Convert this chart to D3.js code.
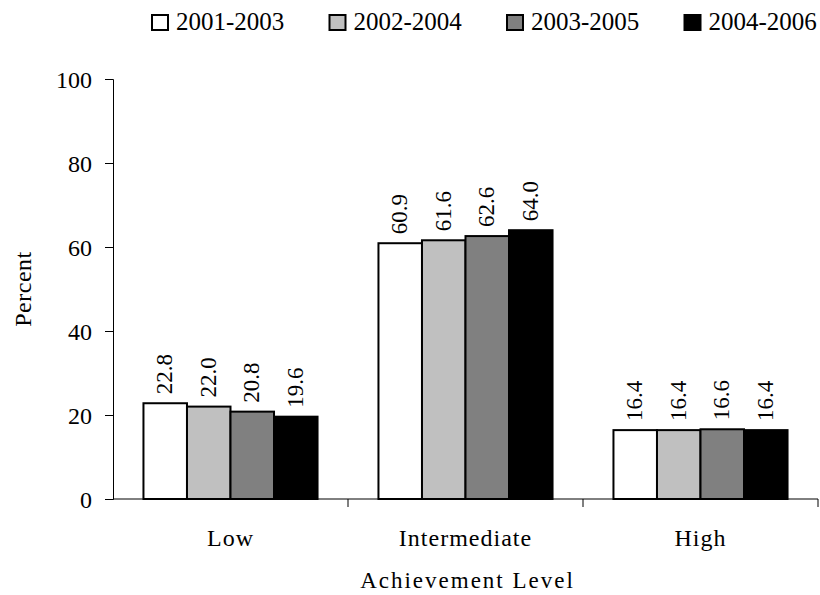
<!DOCTYPE html>
<html>
<head>
<meta charset="utf-8">
<script src="https://cdn.jsdelivr.net/npm/d3@7"></script>
<style>
  body { margin: 0; background: #fff; }
  svg text { font-family: "Liberation Serif", "Times New Roman", serif; fill: #000; }
</style>
</head>
<body>
<div id="chart"></div>
<script>
// chart data
var categories = ['Low', 'Intermediate', 'High'];
var seriesNames = ['2001-2003', '2002-2004', '2003-2005', '2004-2006'];
var seriesColors = ['#ffffff', '#c0c0c0', '#808080', '#000000'];
var values2001 = [22.8, 60.9, 16.4];
var values2002 = [22.0, 61.6, 16.4];
var values2003 = [20.8, 62.6, 16.6];
var values2004 = [19.6, 64.0, 16.4];
var yTicks = [0, 20, 40, 60, 80, 100];

var allSeries = [values2001, values2002, values2003, values2004];

var W = 820, H = 595;
var margin = {left: 113, right: 2, top: 79, bottom: 96};

var svg = d3.select('#chart').append('svg')
	.attr('width', W)
	.attr('height', H);

var x = d3.scaleBand()
	.domain(categories)
	.range([margin.left, W - margin.right])
	.paddingInner(0)
	.paddingOuter(0);

var xInner = d3.scaleBand()
	.domain(seriesNames)
	.range([0, x.bandwidth()])
	.paddingOuter(0.7)
	.paddingInner(0);

var y = d3.scaleLinear()
	.domain([0, 100])
	.range([H - margin.bottom, margin.top]);

// bars
var groups = svg.selectAll('.grp')
	.data(categories)
	.enter()
	.append('g')
	.attr('class', 'grp')
	.attr('transform', function(d) { return 'translate(' + x(d) + ',0)'; });

groups.each(function(cat, ci) {
	var g = d3.select(this);
	var rows = seriesNames.map(function(s, si) {
		return {s: s, si: si, v: allSeries[si][ci]};
	});
	g.selectAll('rect')
		.data(rows)
		.enter()
		.append('rect')
		.attr('x', function(d) { return xInner(d.s); })
		.attr('y', function(d) { return y(d.v); })
		.attr('width', xInner.bandwidth())
		.attr('height', function(d) { return y(0) - y(d.v); })
		.attr('fill', function(d) { return seriesColors[d.si]; })
		.attr('stroke', '#000')
		.attr('stroke-width', 2);

	g.selectAll('text.val')
		.data(rows)
		.enter()
		.append('text')
		.attr('class', 'val')
		.attr('transform', function(d) {
			var cx = xInner(d.s) + xInner.bandwidth() / 2 + 7;
			return 'translate(' + cx + ',' + (y(d.v) - 9) + ') rotate(-90)';
		})
		.style('font-size', '23px')
		.text(function(d) { return d.v.toFixed(1); });
});

// y axis
var yAxis = d3.axisLeft(y).tickValues(yTicks).tickSize(8).tickPadding(13);
var yg = svg.append('g')
	.attr('transform', 'translate(' + margin.left + ',0)')
	.call(yAxis);
yg.select('.domain').attr('stroke', '#000').attr('stroke-width', 1);
yg.selectAll('.tick line').attr('stroke', '#000');
yg.selectAll('.tick text')
	.style('font-size', '24px')
	.attr('dy', '0.35em');

// x axis with ticks at category borders
svg.append('line')
	.attr('x1', margin.left).attr('x2', W - margin.right)
	.attr('y1', y(0)).attr('y2', y(0))
	.attr('stroke', '#000').attr('stroke-width', 1);
svg.selectAll('.xtick')
	.data(categories)
	.enter()
	.append('line')
	.attr('class', 'xtick')
	.attr('x1', function(d) { return x(d) + x.bandwidth(); })
	.attr('x2', function(d) { return x(d) + x.bandwidth(); })
	.attr('y1', y(0)).attr('y2', y(0) + 8)
	.attr('stroke', '#000');

svg.selectAll('.xlab')
	.data(categories)
	.enter()
	.append('text')
	.attr('class', 'xlab')
	.attr('x', function(d) { return x(d) + x.bandwidth() / 2; })
	.attr('y', y(0) + 47)
	.attr('text-anchor', 'middle')
	.style('font-size', '24px')
	.style('letter-spacing', '1px')
	.text(function(d) { return d; });

// axis titles
svg.append('text')
	.attr('x', (margin.left + W - margin.right) / 2 + 2)
	.attr('y', y(0) + 89)
	.attr('text-anchor', 'middle')
	.style('font-size', '23px')
	.style('letter-spacing', '2px')
	.text('Achievement Level');

svg.append('text')
	.attr('transform', 'translate(31,' + y(50) + ') rotate(-90)')
	.attr('text-anchor', 'middle')
	.style('font-size', '24px')
	.style('letter-spacing', '0.5px')
	.text('Percent');

// legend
var legendX = [152, 329.5, 507, 684.5];
var leg = svg.selectAll('.leg')
	.data(seriesNames)
	.enter()
	.append('g')
	.attr('class', 'leg')
	.attr('transform', function(d, i) { return 'translate(' + legendX[i] + ',15)'; });
leg.append('rect')
	.attr('width', 16).attr('height', 15)
	.attr('fill', function(d, i) { return seriesColors[i]; })
	.attr('stroke', '#000')
	.attr('stroke-width', 2);
leg.append('text')
	.attr('x', 24)
	.attr('y', 15)
	.style('font-size', '25px')
	.text(function(d) { return d; });
</script>
</body>
</html>
